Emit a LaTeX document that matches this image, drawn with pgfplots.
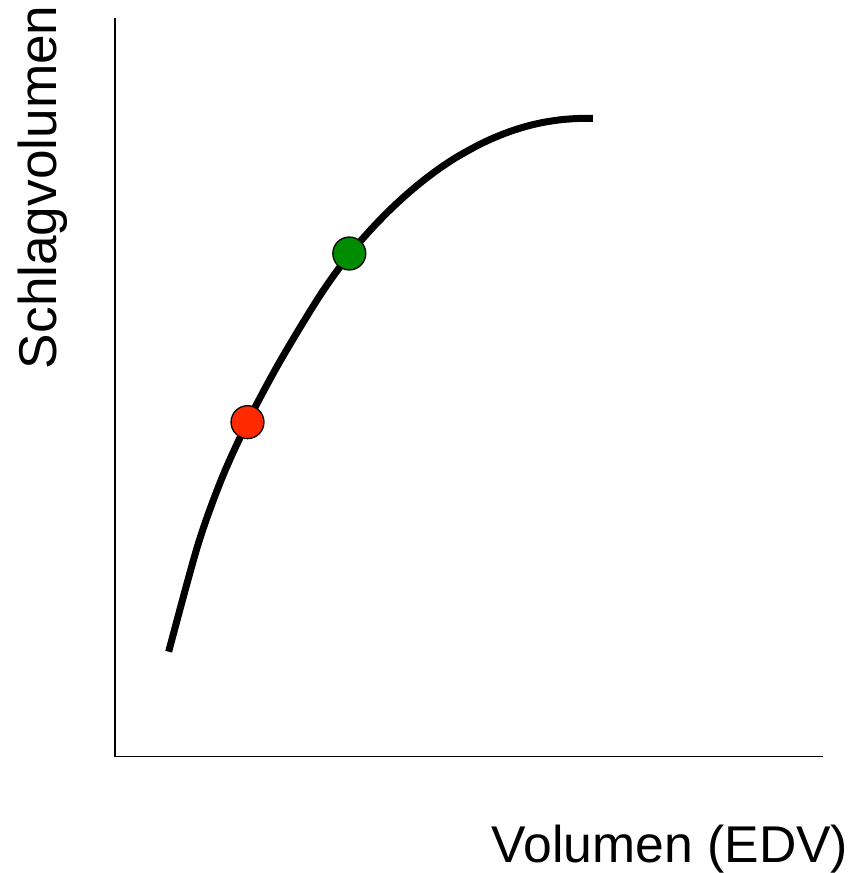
\documentclass[border=0pt]{standalone}
\usepackage{pgfplots}
\pgfplotsset{compat=1.18}
\usepackage{fontspec}
\setmainfont{Liberation Sans}
\definecolor{redpt}{HTML}{FF2A00}
\definecolor{greenpt}{HTML}{008C00}
\begin{document}
\begin{tikzpicture}[x=1bp,y=1bp]
\begin{axis}[
  x=1bp, y=1bp,
  scale only axis,
  xmin=115, xmax=825, ymin=0, ymax=740,
  axis lines=left,
  axis line style={-, line width=1.5bp},
  xtick=\empty, ytick=\empty,
  clip=false,
]
\addplot[black, line width=7bp, smooth, tension=0.5] coordinates {
(169,105) (198,211) (222,278) (248,335) (280,395) (320,461) (350,503) (373,529.5) (390,547) (407,562.8) (423,576.2) (440,589) (457,600.2) (477,611.4) (493,619.1) (510,625.9) (527,631.3) (543,635.1) (560,637.8) (577,639.2) (594,639.5)
};
\addplot[only marks, mark=*, mark size=16.5bp, mark options={fill=redpt, draw=black, line width=1.3bp}] coordinates {(248,335)};
\addplot[only marks, mark=*, mark size=16.5bp, mark options={fill=greenpt, draw=black, line width=1.3bp}] coordinates {(350,504)};
\node[anchor=base east, inner sep=0pt, font=\fontsize{52}{60}\selectfont] at (axis cs:850,-106) {Volumen (EDV)};
\node[anchor=base west, rotate=90, inner sep=0pt, font=\fontsize{53.5}{60}\selectfont] at (axis cs:57,388) {Schlagvolumen};
\path (axis cs:0,-115) rectangle (axis cs:852,758);
\end{axis}
\end{tikzpicture}
\end{document}
